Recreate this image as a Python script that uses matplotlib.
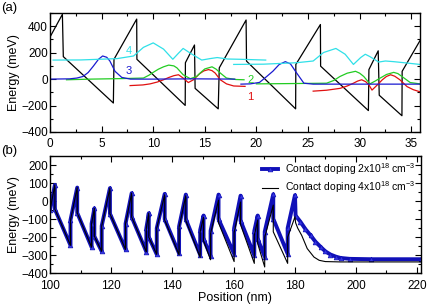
import numpy as np
import matplotlib
matplotlib.use("Agg")
import matplotlib.pyplot as plt
from matplotlib.ticker import MultipleLocator

plt.rcParams['font.family'] = ['Liberation Sans', 'DejaVu Sans']
plt.rcParams['mathtext.fontset'] = 'custom'
plt.rcParams['mathtext.rm'] = 'Liberation Sans'
plt.rcParams['mathtext.it'] = 'Liberation Sans'

# ---- panel (a): conduction band and wavefunctions ----
band_x = [0, 1.2, 1.29, 6.14, 6.2, 8.4, 8.42, 13.1, 13.12, 14.0, 14.06, 16.3, 16.4,
          19.0, 19.04, 23.8, 23.82, 26.2, 26.22, 30.85, 30.9, 31.8, 31.9, 34.1, 34.12, 35.85]
band_y = [318, 490, 170, -181, 150, 454, 150, -199, 124, 258, -70, -225, 85,
          447, 136, -225, 111, 413, 98, -238, 72, 214, -122, -277, 59, 291]

# state 1 (red)
s1a_x = [7.76, 9.0, 9.7, 10.4, 11.0, 11.5, 12.0, 12.45, 12.9, 13.4, 13.9, 14.5, 14.9, 15.36, 15.7, 16.0, 16.5, 17.1, 17.8, 18.9]
s1a_y = [-49, -44, -36, -22, -5, 12, 26, 33, 8, -26, -5, 41, 62, 72, 64, 46, -5, -36, -52, -55]
s1b_x = [25.5, 26.8, 28.1, 28.8, 29.4, 29.8, 30.2, 30.6, 30.9, 31.2, 31.7, 32.2, 32.6, 33.0, 33.4, 33.9, 34.6, 35.2, 35.85]
s1b_y = [-91, -84, -70, -52, -31, -15, -5, -20, -44, -83, -45, -5, 20, 33, 22, -5, -57, -80, -96]

# state 2 (green)
s2a_x = [1.6, 4.0, 7.0, 9.05, 9.6, 10.0, 10.5, 11.0, 11.5, 12.0, 12.3, 12.9, 13.6, 14.2, 14.6, 15.0, 15.7, 16.1, 16.5, 17.1, 18.0, 18.8]
s2a_y = [-5, 0, 4, 8, 30, 51, 75, 93, 106, 100, 85, 33, 3, 20, 50, 77, 93, 75, 46, 8, -3, -5]
s2b_x = [20.0, 23.0, 26.8, 27.5, 28.1, 28.8, 29.6, 30.0, 30.4, 31.0, 31.5, 32.0, 32.6, 33.3, 33.7, 34.1, 34.9, 35.85]
s2b_y = [-36, -34, -31, -10, 20, 45, 59, 45, 20, -36, -15, 8, 35, 51, 42, 20, -26, -36]

# state 3 (blue)
s3a_x = [0, 1.9, 2.6, 3.2, 3.7, 4.2, 4.7, 5.1, 5.5, 5.8, 6.3, 6.95, 7.8, 10.0, 14.0, 17.9]
s3a_y = [0, 2, 8, 20, 50, 98, 150, 175, 165, 137, 59, 13, 0, 0, 2, 0]
s3b_x = [18.5, 19.4, 20.3, 21.0, 21.6, 22.2, 22.8, 23.3, 23.9, 24.6, 25.5, 28.0, 32.0, 35.85]
s3b_y = [-38, -36, -25, 20, 60, 110, 132, 115, 46, -31, -38, -38, -38, -38]

# state 4 (cyan)
s4a_x = [0.3, 3.0, 6.5, 8.1, 9.05, 10.0, 11.0, 11.9, 12.45, 12.9, 13.6, 14.7, 15.5, 16.2, 17.2, 18.4, 20.9]
s4a_y = [144, 145, 155, 175, 240, 274, 227, 150, 196, 232, 196, 144, 155, 163, 152, 150, 144]
s4b_x = [17.8, 20.7, 23.9, 25.5, 26.5, 27.7, 28.6, 29.4, 30.1, 30.55, 31.0, 31.85, 32.5, 33.3, 34.3, 35.85]
s4b_y = [111, 113, 124, 137, 201, 232, 188, 111, 163, 188, 170, 129, 137, 132, 124, 111]

state_labels = ['1', '2', '3', '4']
label_pos = [(19.4, -135), (19.4, -5), (7.6, 59), (7.6, 211)]
state_colors = ['#e01010', '#22cc22', '#1a1ad0', '#30e0e8']

# ---- panel (b): band profiles for two contact dopings ----
low_x = [100, 101.6, 101.6, 106.7, 106.7, 108.9, 108.9, 113.6, 113.6, 114.5, 114.5, 116.9, 116.9,
         119.6, 119.6, 124.7, 124.7, 126.7, 126.7, 131.5, 131.5, 132.3, 132.3, 134.9, 134.9,
         137.5, 137.5, 142.2, 142.2, 144.4, 144.4, 149.1, 149.1, 150.2, 150.2, 152.5, 152.5,
         155.1, 155.1, 160.2, 160.2, 162.3, 162.3, 166.8, 166.8, 167.9, 167.9, 170.2, 170.2,
         173.0, 173.0, 177.7, 177.7, 180.1, 180.3, 181.9, 183.5, 185.2, 186.8, 188.5, 190.0,
         191.7, 193.5, 195.0, 198.0, 205.0, 221.2]
low_y = [-50, 90, -45, -245, -105, 75, -65, -255, -125, -40, -195, -278, -138,
         72, -70, -268, -125, 44, -88, -281, -150, -67, -200, -295, -150,
         40, -100, -290, -140, 36, -100, -298, -160, -80, -210, -303, -165,
         36, -100, -292, -150, 30, -108, -300, -165, -80, -210, -308, -170,
         38, -98, -292, -150, 33, -80, -115, -155, -190, -225, -254, -278,
         -296, -308, -315, -320, -322, -322]

high_x = [100, 101.6, 101.6, 106.7, 106.7, 108.9, 108.9, 113.6, 113.6, 114.5, 114.5, 116.9, 116.9,
          119.6, 119.6, 124.7, 124.7, 126.7, 126.7, 131.5, 131.5, 132.3, 132.3, 134.9, 134.9,
          137.5, 137.5, 142.2, 142.2, 144.4, 144.4, 149.1, 149.1, 150.2, 150.2, 152.5, 152.5,
          155.1, 155.1, 160.2, 160.2, 162.3, 162.3, 166.8, 166.8, 167.9, 167.9, 170.2, 170.2,
          173.0, 173.0, 177.7, 177.7, 180.1, 180.3, 181.0, 182.3, 184.1, 186.3, 188.0, 190.0,
          195.0, 221.2]
high_y = [-50, 90, -45, -245, -105, 75, -65, -255, -125, -40, -195, -278, -138,
          72, -70, -268, -125, 44, -88, -281, -150, -67, -200, -295, -150,
          35, -105, -298, -145, 30, -108, -312, -170, -90, -220, -325, -180,
          5, -120, -335, -175, -5, -130, -345, -190, -106, -235, -365, -200,
          -22, -170, -345, -200, -87, -120, -150, -190, -263, -310, -328, -335,
          -337, -337]

legend_labels = [r'Contact doping 2x10$^{18}$ cm$^{-3}$', r'Contact doping 4x10$^{18}$ cm$^{-3}$']

fig = plt.figure(figsize=(4.28, 3.04), dpi=100)
ax1 = fig.add_axes([50 / 428, 1 - 132 / 304, 370 / 428, 119 / 304])
ax2 = fig.add_axes([50 / 428, 1 - 273.3 / 304, 370.7 / 428, 117.3 / 304])

fs = 8.5
lw = 0.9
ax1.plot(band_x, band_y, color='black', lw=lw)
ax1.plot(s1a_x, s1a_y, color=state_colors[0], lw=lw)
ax1.plot(s1b_x, s1b_y, color=state_colors[0], lw=lw)
ax1.plot(s2a_x, s2a_y, color=state_colors[1], lw=lw)
ax1.plot(s2b_x, s2b_y, color=state_colors[1], lw=lw)
ax1.plot(s3a_x, s3a_y, color=state_colors[2], lw=lw)
ax1.plot(s3b_x, s3b_y, color=state_colors[2], lw=lw)
ax1.plot(s4a_x, s4a_y, color=state_colors[3], lw=lw)
ax1.plot(s4b_x, s4b_y, color=state_colors[3], lw=lw)
for lab, (lx, ly), c in zip(state_labels, label_pos, state_colors):
    ax1.text(lx, ly, lab, color=c, fontsize=8, ha='center', va='center')

ax1.set_xlim(0, 35.85)
ax1.set_ylim(-400, 500)
ax1.xaxis.set_major_locator(MultipleLocator(5))
ax1.xaxis.set_minor_locator(MultipleLocator(2.5))
ax1.yaxis.set_major_locator(MultipleLocator(200))
ax1.yaxis.set_minor_locator(MultipleLocator(100))
ax1.set_ylabel('Energy (meV)', fontsize=9, labelpad=1)

ax2.plot(low_x, low_y, color='#1010b8', lw=2.8, marker='^', ms=3.4,
         markerfacecolor='#3535e0', markeredgecolor='#1010b8', markeredgewidth=0.5,
         label=legend_labels[0])
ax2.plot(high_x, high_y, color='black', lw=0.8, label=legend_labels[1])
ax2.set_xlim(100, 221.2)
ax2.set_ylim(-400, 250)
ax2.xaxis.set_major_locator(MultipleLocator(20))
ax2.xaxis.set_minor_locator(MultipleLocator(10))
ax2.yaxis.set_major_locator(MultipleLocator(100))
ax2.yaxis.set_minor_locator(MultipleLocator(50))
ax2.set_ylabel('Energy (meV)', fontsize=9, labelpad=1)
ax2.set_xlabel('Position (nm)', fontsize=9, labelpad=0.3)
ax2.legend(loc='upper right', frameon=False, fontsize=7.5, handlelength=1.5,
           handletextpad=0.7, borderaxespad=0.1, labelspacing=0.25)

for ax in (ax1, ax2):
    ax.tick_params(which='both', direction='in', top=True, right=True, labelsize=fs)
    ax.tick_params(axis='y', which='both', pad=1.5)
    ax.tick_params(axis='x', which='both', pad=4.5)
    ax.tick_params(which='major', length=4, width=0.8)
    ax.tick_params(which='minor', length=2.2, width=0.8)
    for sp in ax.spines.values():
        sp.set_linewidth(1.0)

fig.text(1 / 428, 1 - 8 / 304, '(a)', fontsize=9.5, va='center', ha='left')
fig.text(1 / 428, 1 - 151 / 304, '(b)', fontsize=9.5, va='center', ha='left')

fig.savefig('out.png', dpi=100)
